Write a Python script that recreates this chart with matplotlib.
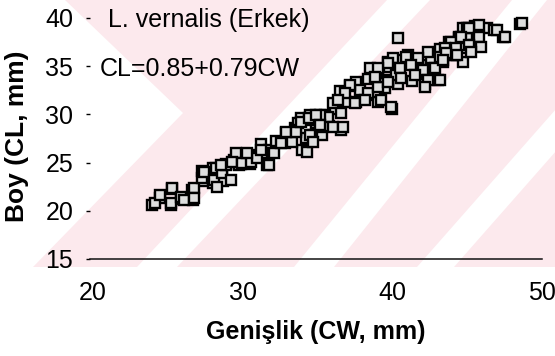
import matplotlib
matplotlib.use("Agg")
import matplotlib.pyplot as plt
from matplotlib.patches import Polygon

plt.rcParams['font.family'] = ['Liberation Sans', 'DejaVu Sans']

# Carapace width (CW, mm) and length (CL, mm)
cw = [23.93, 24.47, 25.18, 25.29, 25.88, 26.59, 26.71, 27.29, 27.36, 28.0,
      28.05, 28.7, 28.6, 28.9, 29.65, 29.9, 30.5, 30.4, 31.2, 31.65,
      31.76, 31.3, 32.2, 32.8, 32.9, 33.5, 33.99, 33.9, 34.2, 34.5,
      34.7, 34.9, 35.3, 35.76, 35.5, 36.6, 36.2, 36.9, 36.5, 37.2,
      37.6, 38.35, 38.35, 39.06, 39.06, 39.76, 40.0, 39.5, 40.35, 40.47,
      40.35, 41.06, 41.3, 41.65, 41.9, 42.2, 42.6, 43.06, 43.2, 43.4,
      43.8, 44.2, 44.47, 44.7, 44.94, 45.06, 45.5, 45.65, 46.35, 46.8,
      47.4, 48.5, 44.7,
      39.71, 38.91, 38.51, 39.71, 40.24, 37.58, 37.85, 37.19, 36.85, 38.38,
      39.24, 39.91, 36.06, 36.39, 35.73, 36.59, 37.52, 38.18, 35.19, 34.40,
      33.73, 33.54, 35.19, 36.06, 36.72, 39.04,
      45.02, 44.48, 43.89, 45.02, 45.48, 44.68, 43.49, 44.22, 43.16, 42.36,
      41.70, 40.90, 40.04, 39.71, 40.50, 41.23, 42.03, 42.83, 43.16, 42.36,
      41.50, 39.04, 38.84, 40.57, 39.71, 42.16,
      45.79, 45.13, 45.79, 44.57, 45.90, 45.13, 44.24, 43.58, 43.36, 44.35,
      45.23, 47.01, 47.56, 48.67,
      24.11, 24.45, 25.24, 25.31, 25.90, 26.1, 26.77, 26.77, 27.3, 27.43,
      28.1, 28.23, 28.63, 28.9, 29.42, 29.55, 29.75, 29.22, 28.29,
      28.56, 29.29, 29.95, 30.55, 30.95, 31.74, 30.28, 31.21, 32.08, 32.54,
      33.27, 32.87, 33.54, 34.53, 34.27, 33.87, 34.4, 34.93, 35.19, 34.73]
cl = [20.6, 21.35, 20.6, 22.3, 21.2, 22.2, 21.1, 24.1, 23.1, 22.9,
      24.4, 23.1, 24.1, 24.8, 25.7, 24.8, 24.8, 25.8, 26.9, 24.7,
      26.3, 26.0, 27.2, 27.0, 28.1, 28.6, 26.3, 29.6, 27.5, 29.9,
      27.9, 29.1, 27.9, 28.75, 29.96, 28.4, 30.6, 31.3, 32.4, 32.9,
      31.3, 33.7, 32.0, 31.3, 34.3, 34.9, 30.6, 32.7, 37.9, 35.6,
      33.1, 36.1, 33.4, 34.4, 35.1, 33.1, 35.8, 33.6, 36.8, 35.4,
      37.5, 36.1, 37.9, 35.4, 38.55, 37.0, 39.2, 37.9, 38.9, 38.7,
      38.0, 39.4, 38.9,
      35.44, 34.29, 34.81, 33.57, 34.09, 33.36, 32.53, 33.05, 32.22, 32.22,
      31.49, 30.77, 31.18, 31.49, 29.73, 30.15, 31.18, 31.49, 29.94, 29.42,
      29.11, 28.38, 28.69, 28.69, 28.69, 32.84,
      38.96, 38.03, 37.51, 37.93, 37.20, 36.89, 36.89, 36.16, 35.95, 36.47,
      35.85, 35.95, 35.85, 35.33, 34.81, 35.12, 34.61, 34.81, 33.57, 33.57,
      34.09, 34.81, 33.88, 33.78, 33.36, 32.84,
      39.27, 38.93, 38.06, 38.06, 37.02, 37.20, 36.86, 36.34, 35.64, 36.16,
      36.50, 38.76, 38.06, 39.45,
      20.81, 21.64, 20.81, 22.37, 21.43, 21.1, 22.37, 21.33, 23.4, 24.02,
      23.2, 24.44, 23.92, 24.75, 25.27, 26.0, 24.75, 23.2, 22.47,
      24.75, 25.06, 24.96, 25.06, 25.48, 24.75, 26.0, 26.31, 26.0, 27.03,
      27.14, 28.17, 28.17, 27.86, 26.1, 29.21, 29.63, 29.94, 28.9, 27.14]

x_ticks = [20, 30, 40, 50]
y_ticks = [15, 20, 25, 30, 35, 40]
title_text = "L. vernalis (Erkek)"
eq_text = "CL=0.85+0.79CW"
x_label = "Genişlik (CW, mm)"
y_label = "Boy (CL, mm)"

W, H = 555, 356
fig = plt.figure(figsize=(W / 100, H / 100), dpi=100)
fig.patch.set_facecolor('white')

# faint pink watermark behind the chart (pixel coords, y down)
def fpoly(pts, color):
    p = Polygon([(x / W, 1 - y / H) for x, y in pts], closed=True,
                transform=fig.transFigure, facecolor=color, edgecolor='none',
                zorder=-10)
    fig.patches.append(p)

pink = '#fce9ed'
fpoly([(0, 0), (555, 0), (555, 267), (0, 267)], pink)
fpoly([(0, 0), (65, 0), (183, 113), (33, 267), (0, 267)], 'white')
fpoly([(137, 267), (177, 267), (430, 0), (387, 0)], 'white')
fpoly([(294, 267), (334, 267), (547, 0), (512, 0)], 'white')
fpoly([(417, 267), (454, 267), (689, 0), (652, 0)], 'white')

ax = fig.add_axes([90 / W, 1 - 259 / H, (542 - 90) / W, (259 - 13) / H])
ax.set_facecolor('none')
ax.set_xlim(19.8, 50.0)
ax.set_ylim(15, 40.5)

ax.plot(cw, cl, linestyle='none', marker='s', markersize=7.6,
        markerfacecolor='#dedede', markeredgecolor='black',
        markeredgewidth=1.7, zorder=3)

for s in ['top', 'right', 'left']:
    ax.spines[s].set_visible(False)
ax.spines['bottom'].set_linewidth(1.1)
ax.spines['bottom'].set_color('#111111')

ax.set_xticks(x_ticks)
ax.set_yticks(y_ticks)
ax.tick_params(axis='x', length=0, pad=16, labelsize=18)
ax.tick_params(axis='y', length=3, width=1.0, direction='out', pad=9,
               labelsize=18)

ax.text(20.99, 40, title_text, fontsize=18, va='center_baseline', ha='left')
ax.text(20.46, 35, eq_text, fontsize=18, va='center_baseline', ha='left')

ax.set_xlabel(x_label, fontsize=18, fontweight='bold', labelpad=11)
ax.set_ylabel(y_label, fontsize=19, fontweight='bold', labelpad=12)

fig.savefig('out.png', dpi=100)
